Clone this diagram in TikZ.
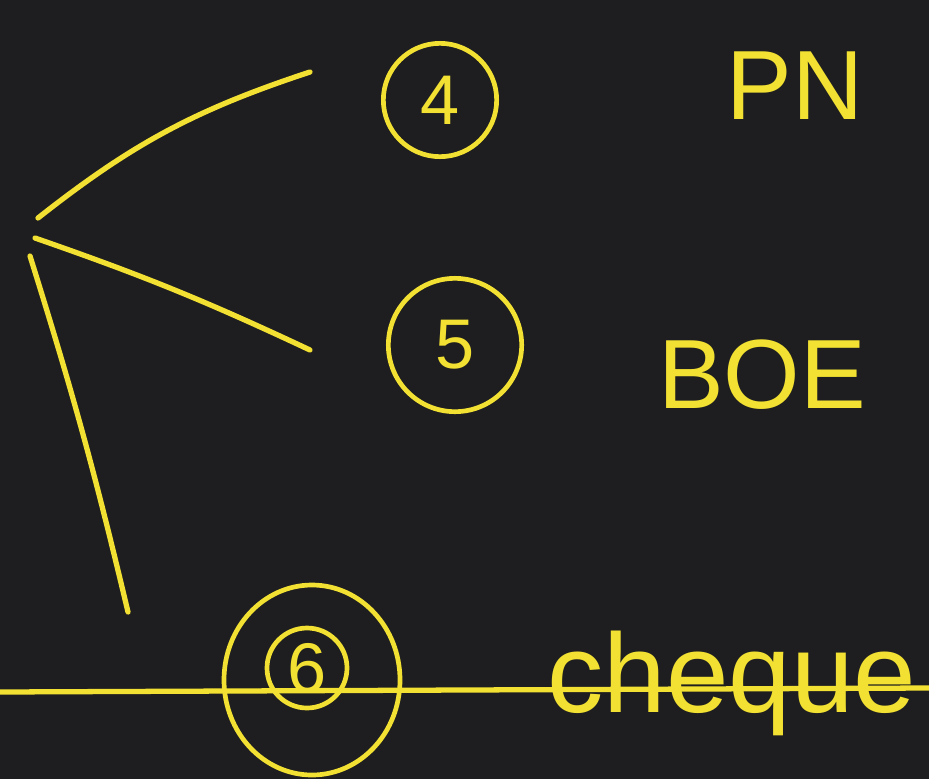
\documentclass[tikz,border=0pt]{standalone}
\usepackage{fontspec}
\setmainfont{Liberation Sans}
\usetikzlibrary{positioning}
\definecolor{boardBg}{HTML}{1E1E20}
\definecolor{chalkY}{HTML}{F2E132}

\begin{document}
\begin{tikzpicture}[x=0.03cm, y=-0.03cm,
    ink/.style={draw=chalkY, line width=4.5pt, line cap=round},
    numring/.style={circle, draw=chalkY, line width=4pt, text=chalkY,
      font=\fontsize{60}{60}\selectfont, minimum size=3.4cm, inner sep=0pt},
    hand/.style={text=chalkY, font=\fontsize{84}{84}\selectfont, inner sep=0pt}]
  \fill[boardBg] (0,0) rectangle (929,779);
  \useasboundingbox (0,0) rectangle (929,779);

  % three strokes fanning out from the left
  \coordinate (rootA) at (38,218);
  \coordinate (rootB) at (35,238);
  \coordinate (rootC) at (30,256);
  \coordinate (tip4) at (310,72);
  \coordinate (tip5) at (310,350);
  \coordinate (tip6) at (128,612);
  \draw[ink] (rootA) to[bend left=10] (tip4);
  \draw[ink] (rootB) to[bend left=3] (tip5);
  \draw[ink] (rootC) to[bend left=2] (tip6);

  % items
  \node[numring] (n4) at (440,100) {4};
  \node[hand] (pn) at (795,86) {PN};
  \node[numring, minimum size=4.0cm] (n5) at (455,345) {5};
  \node[hand] (boe) at (762,375) {BOE};
  \node[numring, minimum size=2.4cm] (n6) at (307,668) {6};
  \draw[chalkY, line width=4pt] (312,680) ellipse (88 and 95);
  \node[hand, font=\fontsize{96}{96}\selectfont] (chq) at (732,683) {cheque};

  % strike line
  \coordinate (lineL) at (0,692);
  \coordinate (lineR) at (929,688);
  \draw[ink, line cap=butt] (lineL) -- (lineR);
\end{tikzpicture}
\end{document}
